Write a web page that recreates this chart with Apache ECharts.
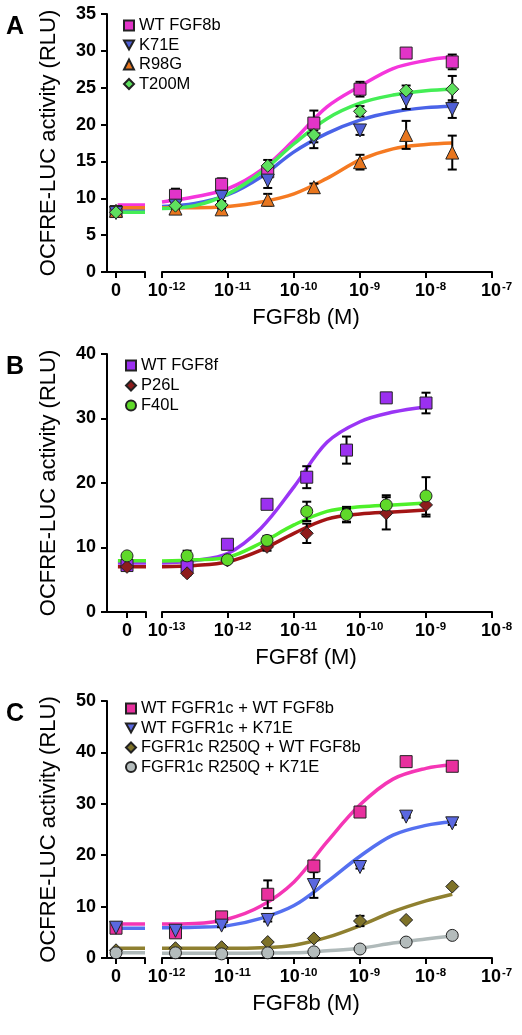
<!DOCTYPE html>
<html><head><meta charset="utf-8">
<script src="https://cdn.jsdelivr.net/npm/echarts@6/dist/echarts.min.js"></script>
<style>html,body{margin:0;padding:0;background:#fff}#c{width:522px;height:1035px}</style>
</head><body><div id="c"></div>
<script>
// ---------- Panel A ----------
const concA = [1.6e-12, 8e-12, 4e-11, 2e-10, 1e-9, 5e-9, 2.5e-8];
const namesA = ['WT FGF8b', 'K71E', 'R98G', 'T200M'];
const zeroValA = [8.2, 8.0, 8.3, 8.1];
const zeroErrA = [0.3, 0.3, 0.2, 0.2];
const valA_WT = [10.4, 11.9, 13.6, 20.2, 24.8, 29.7, 28.5];
const errA_WT = [0.9, 0.8, 0.6, 1.7, 1.0, 0.3, 1.0];
const valA_K71E = [9.0, 10.2, 12.4, 18.0, 19.2, 23.3, 22.1];
const errA_K71E = [0.7, 0.6, 1.0, 1.2, 0.6, 1.2, 1.2];
const valA_R98G = [8.6, 8.5, 9.8, 11.5, 14.9, 18.6, 16.2];
const errA_R98G = [0.4, 0.5, 0.8, 0.5, 1.0, 1.9, 2.3];
const valA_T200M = [9.0, 9.1, 14.4, 18.6, 21.8, 24.6, 24.8];
const errA_T200M = [0.4, 0.5, 0.8, 1.0, 0.7, 0.7, 1.8];
const curveXA = [1e-12, 3.16e-12, 1e-11, 3.16e-11, 1e-10, 3.16e-10, 1e-9, 3.16e-9, 1e-8, 2.5e-8];
const fitA_WT = [9.5, 10.2, 11.3, 13.8, 17.9, 22.4, 25.2, 27.6, 28.7, 29.2];
const fitA_K71E = [8.9, 9.3, 10.5, 12.9, 16.3, 18.8, 20.6, 21.7, 22.3, 22.5];
const fitA_R98G = [8.7, 8.7, 8.9, 9.5, 10.6, 12.7, 15.2, 16.7, 17.3, 17.5];
const fitA_T200M = [8.6, 9.0, 10.6, 13.5, 17.4, 20.8, 22.9, 24.0, 24.6, 24.8];
const zeroFitA = [9.1, 8.4, 8.7, 8.1];
const yTicksA = [0, 35, 5];

// ---------- Panel B ----------
const concB = [2.4e-13, 9.8e-13, 3.9e-12, 1.56e-11, 6.25e-11, 2.5e-10, 1e-9];
const namesB = ['WT FGF8f', 'P26L', 'F40L'];
const zeroValB = [7.2, 7.0, 8.7];
const zeroErrB = [0.4, 0.3, 0.3];
const valB_WT = [7.0, 10.5, 16.7, 20.9, 25.1, 33.2, 32.4];
const errB_WT = [0.5, 0.5, 0.6, 1.7, 2.1, 0.3, 1.6];
const valB_P26L = [6.0, 8.0, 10.1, 12.2, 15.0, 15.3, 16.6];
const errB_P26L = [0.3, 0.3, 0.6, 1.5, 1.0, 2.5, 1.8];
const valB_F40L = [8.7, 8.1, 11.1, 15.6, 15.1, 16.6, 18.0];
const errB_F40L = [0.8, 0.4, 0.7, 1.5, 1.2, 1.5, 2.9];
const curveXB = [1e-13, 3.16e-13, 1e-12, 3.16e-12, 1e-11, 3.16e-11, 1e-10, 3.16e-10, 1e-9];
const fitB_WT = [7.6, 8.0, 9.1, 13.0, 19.4, 26.3, 29.5, 31.0, 31.8];
const fitB_P26L = [7.0, 7.2, 7.8, 9.6, 12.2, 14.4, 15.2, 15.5, 15.8];
const fitB_F40L = [7.9, 8.1, 8.5, 10.7, 13.5, 15.6, 16.3, 16.6, 16.9];
const zeroFitB = [7.6, 7.0, 7.95];
const yTicksB = [0, 40, 10];

// ---------- Panel C ----------
const concC = [1.6e-12, 8e-12, 4e-11, 2e-10, 1e-9, 5e-9, 2.5e-8];
const namesC = ['WT FGFR1c + WT FGF8b', 'WT FGFR1c + K71E', 'FGFR1c R250Q + WT FGF8b', 'FGFR1c R250Q + K71E'];
const zeroValC = [5.8, 5.9, 1.5, 1.0];
const zeroErrC = [0.3, 0.2, 0.2, 0.1];
const valC_1 = [4.9, 8.0, 12.4, 17.9, 28.4, 38.2, 37.3];
const errC_1 = [0.3, 0.4, 2.7, 0.5, 0.4, 0.2, 0.2];
const valC_2 = [5.3, 6.3, 7.4, 14.2, 17.7, 27.5, 26.2];
const errC_2 = [0.2, 0.3, 0.3, 2.5, 0.3, 0.2, 0.3];
const valC_3 = [1.9, 2.1, 3.1, 3.8, 7.2, 7.4, 13.9];
const errC_3 = [0.1, 0.1, 0.2, 0.2, 1.0, 0.2, 0.2];
const valC_4 = [1.0, 0.8, 1.0, 1.2, 1.75, 3.1, 4.4];
const errC_4 = [0.1, 0.1, 0.1, 0.1, 0.1, 0.1, 0.1];
const curveXC = [1e-12, 3.16e-12, 1e-11, 3.16e-11, 1e-10, 3.16e-10, 1e-9, 3.16e-9, 1e-8, 2.5e-8];
const fitC_1 = [6.6, 6.7, 7.6, 10.1, 14.8, 22.6, 29.8, 34.8, 36.9, 37.6];
const fitC_2 = [5.9, 6.0, 6.3, 7.7, 10.2, 14.8, 19.8, 23.9, 25.8, 26.5];
const fitC_3 = [1.9, 1.9, 1.9, 2.0, 2.5, 4.0, 6.3, 9.0, 11.1, 12.4];
const fitC_4 = [0.9, 0.9, 0.9, 0.95, 1.0, 1.4, 1.9, 2.9, 3.7, 4.3];
const zeroFitC = [6.6, 5.8, 1.9, 1.0];
const yTicksC = [0, 50, 10];

// ---------- styling ----------
const FONT = '"Liberation Sans", Arial, Helvetica, sans-serif';
const INV_TRI = 'path://M0,0L10,0L5,9Z';

const panels = [
  { letter: 'A', xTitle: 'FGF8b (M)', top: 14, height: 258, zMin: -0.9, zMax: 2.9, leftW: 38,
    logMin: 1e-12, logMax: 1e-7, yT: yTicksA, conc: concA, curveX: curveXA,
    legendTop: 12, legendLeft: 118, legendGap: 2.5,
    sers: [
      { name: namesA[0], sym: 'rect', icon: 'rect', size: 12, col: '#e234c8', line: '#f535dc', z0: zeroValA[0], e0: zeroErrA[0], v: valA_WT, e: errA_WT, fit: fitA_WT, zf: zeroFitA[0] },
      { name: namesA[1], sym: 'triangle', rot: 180, icon: INV_TRI, size: 13, col: '#4f5fd6', line: '#4a63e8', z0: zeroValA[1], e0: zeroErrA[1], v: valA_K71E, e: errA_K71E, fit: fitA_K71E, zf: zeroFitA[1] },
      { name: namesA[2], sym: 'triangle', icon: 'triangle', size: 13, col: '#e8761e', line: '#f57a22', z0: zeroValA[2], e0: zeroErrA[2], v: valA_R98G, e: errA_R98G, fit: fitA_R98G, zf: zeroFitA[2] },
      { name: namesA[3], sym: 'diamond', icon: 'diamond', size: 13, col: '#5ee05e', line: '#44ee55', z0: zeroValA[3], e0: zeroErrA[3], v: valA_T200M, e: errA_T200M, fit: fitA_T200M, zf: zeroFitA[3] }
    ] },
  { letter: 'B', xTitle: 'FGF8f (M)', top: 354, height: 258, zMin: -1, zMax: 0.95, leftW: 39,
    logMin: 1e-13, logMax: 1e-8, yT: yTicksB, conc: concB, curveX: curveXB,
    legendTop: 352, legendLeft: 120, legendGap: 3,
    sers: [
      { name: namesB[0], sym: 'rect', icon: 'rect', size: 12, col: '#9b30f0', line: '#9a35f5', z0: zeroValB[0], e0: zeroErrB[0], v: valB_WT, e: errB_WT, fit: fitB_WT, zf: zeroFitB[0] },
      { name: namesB[1], sym: 'diamond', icon: 'diamond', size: 13, col: '#8e1c1c', line: '#a31515', z0: zeroValB[1], e0: zeroErrB[1], v: valB_P26L, e: errB_P26L, fit: fitB_P26L, zf: zeroFitB[1] },
      { name: namesB[2], sym: 'circle', icon: 'circle', size: 12, col: '#5fd92a', line: '#4ef02a', z0: zeroValB[2], e0: zeroErrB[2], v: valB_F40L, e: errB_F40L, fit: fitB_F40L, zf: zeroFitB[2] }
    ] },
  { letter: 'C', xTitle: 'FGF8b (M)', top: 701, height: 257, zMin: -0.9, zMax: 2.9, leftW: 38,
    logMin: 1e-12, logMax: 1e-7, yT: yTicksC, conc: concC, curveX: curveXC,
    legendTop: 695, legendLeft: 120, legendGap: 2.5,
    sers: [
      { name: namesC[0], sym: 'rect', icon: 'rect', size: 12, col: '#e8309e', line: '#f536b5', z0: zeroValC[0], e0: zeroErrC[0], v: valC_1, e: errC_1, fit: fitC_1, zf: zeroFitC[0] },
      { name: namesC[1], sym: 'triangle', rot: 180, icon: INV_TRI, size: 13, col: '#5a68e0', line: '#5570f0', z0: zeroValC[1], e0: zeroErrC[1], v: valC_2, e: errC_2, fit: fitC_2, zf: zeroFitC[1] },
      { name: namesC[2], sym: 'diamond', icon: 'diamond', size: 13, col: '#7e7228', line: '#8f8030', z0: zeroValC[2], e0: zeroErrC[2], v: valC_3, e: errC_3, fit: fitC_3, zf: zeroFitC[2] },
      { name: namesC[3], sym: 'circle', icon: 'circle', size: 12, col: '#b4bcbc', line: '#b0baba', z0: zeroValC[3], e0: zeroErrC[3], v: valC_4, e: errC_4, fit: fitC_4, zf: zeroFitC[3] }
    ] }
];

const grid = [], xAxis = [], yAxis = [], series = [], legend = [], graphic = [];
const axisLineStyle = { color: '#000', width: 2 };
const tickLabel = { color: '#000', fontSize: 18, fontWeight: 'bold', fontFamily: FONT };

function errRender(params, api) {
  const x = api.value(0), y = api.value(1), e = api.value(2);
  const t = api.coord([x, y + e]);
  const b = api.coord([x, y - e]);
  const w = 4.5;
  const st = { stroke: '#000', lineWidth: 2 };
  return { type: 'group', children: [
    { type: 'line', shape: { x1: t[0], y1: t[1], x2: b[0], y2: b[1] }, style: st },
    { type: 'line', shape: { x1: t[0] - w, y1: t[1], x2: t[0] + w, y2: t[1] }, style: st },
    { type: 'line', shape: { x1: b[0] - w, y1: b[1], x2: b[0] + w, y2: b[1] }, style: st }
  ] };
}

panels.forEach((p, pi) => {
  const gL = grid.length, gR = gL + 1;
  grid.push({ left: 107, top: p.top, width: p.leftW, height: p.height, containLabel: false });
  grid.push({ left: 162, top: p.top, width: 330, height: p.height, containLabel: false });
  xAxis.push({ type: 'value', gridIndex: gL, min: p.zMin, max: p.zMax,
    axisLine: { show: true, onZero: false, lineStyle: axisLineStyle },
    axisTick: { show: true, length: 6, lineStyle: { color: '#000', width: 2 }, customValues: [0, p.zMax] },
    axisLabel: Object.assign({ margin: 10, customValues: [0], formatter: v => '0' }, tickLabel),
    splitLine: { show: false } });
  xAxis.push({ type: 'log', logBase: 10, gridIndex: gR, min: p.logMin, max: p.logMax, splitNumber: 5,
    axisLine: { show: true, onZero: false, lineStyle: axisLineStyle },
    axisTick: { show: true, length: 6, lineStyle: { color: '#000', width: 2 } },
    minorTick: { show: false },
    axisLabel: { margin: 9, color: '#000',
      formatter: v => '{b|10}{s|' + Math.round(Math.log10(v)) + '}',
      rich: { b: { fontSize: 18, fontWeight: 'bold', fontFamily: FONT, color: '#000', padding: [0, 0, 0, 9] },
              s: { fontSize: 11.5, fontWeight: 'bold', fontFamily: FONT, color: '#000', padding: [0, 0, 9, 1] } } },
    splitLine: { show: false } });
  yAxis.push({ type: 'value', gridIndex: gL, min: p.yT[0], max: p.yT[1], interval: p.yT[2],
    name: 'OCFRE-LUC activity (RLU)', nameLocation: 'middle', nameGap: 47,
    nameTextStyle: { color: '#000', fontSize: 22, fontFamily: FONT },
    axisLine: { show: true, onZero: false, lineStyle: axisLineStyle },
    axisTick: { show: true, length: 6, lineStyle: { color: '#000', width: 2 } },
    axisLabel: Object.assign({ margin: 11 }, tickLabel),
    splitLine: { show: false } });
  yAxis.push({ type: 'value', gridIndex: gR, min: p.yT[0], max: p.yT[1], interval: p.yT[2], show: false,
    axisLine: { onZero: false }, splitLine: { show: false } });

  const legData = [];
  p.sers.forEach((s, si) => {
    const isty = { color: s.col, borderColor: '#222', borderWidth: 1, opacity: 1 };
    series.push({ type: 'scatter', name: s.name, xAxisIndex: gR, yAxisIndex: gR, symbol: s.sym, symbolRotate: s.rot || 0,
      symbolSize: s.size, itemStyle: isty, zlevel: 2, z: 5, data: p.conc.map((c, i) => [c, s.v[i]]) });
    series.push({ type: 'scatter', name: s.name, xAxisIndex: gL, yAxisIndex: gL, symbol: s.sym, symbolRotate: s.rot || 0,
      symbolSize: s.size, itemStyle: isty, zlevel: 2, z: 5, data: [[0, s.z0]] });
    series.push({ type: 'custom', name: '_err' + pi + si, xAxisIndex: gR, yAxisIndex: gR, renderItem: errRender, zlevel: 1, z: 4,
      encode: { x: 0, y: 1 }, data: p.conc.map((c, i) => [c, s.v[i], s.e[i]]) });
    series.push({ type: 'custom', name: '_err0' + pi + si, xAxisIndex: gL, yAxisIndex: gL, renderItem: errRender, zlevel: 1, z: 4,
      encode: { x: 0, y: 1 }, data: [[0, s.z0, s.e0]] });
    series.push({ type: 'line', name: '_fit' + pi + si, xAxisIndex: gR, yAxisIndex: gR, smooth: 0.35, showSymbol: false, symbol: 'none',
      lineStyle: { color: s.line, width: 3.5 }, z: 3, data: p.curveX.map((x, i) => [x, s.fit[i]]) });
    series.push({ type: 'line', name: '_fz' + pi + si, xAxisIndex: gL, yAxisIndex: gL, showSymbol: false, symbol: 'none',
      lineStyle: { color: s.line, width: 3.5 }, z: 3, data: [[p.zMin + (p.zMax - p.zMin) * 0.28, s.zf], [p.zMax, s.zf]] });
    legData.push({ name: s.name, icon: s.icon });
  });
  legend.push({ orient: 'vertical', left: p.legendLeft, top: p.legendTop, itemWidth: 10, itemHeight: 10,
    itemGap: p.legendGap, selectedMode: false, data: legData, zlevel: 2,
    itemStyle: { opacity: 1 },
    textStyle: { color: '#000', fontSize: 16.5, fontFamily: FONT } });

  graphic.push({ type: 'text', left: 6, top: p.top + 1, style: { text: p.letter, font: 'bold 25px ' + FONT, fill: '#000' } });
  graphic.push({ type: 'text', x: 306, y: p.top + p.height + 46, style: { text: p.xTitle, font: '22px ' + FONT, fill: '#000', textAlign: 'center', textVerticalAlign: 'middle' } });
});

const chart = echarts.init(document.getElementById('c'), null, { renderer: 'canvas' });
chart.setOption({ animation: false, backgroundColor: '#fff', grid, xAxis, yAxis, series, legend, graphic });
</script></body></html>
